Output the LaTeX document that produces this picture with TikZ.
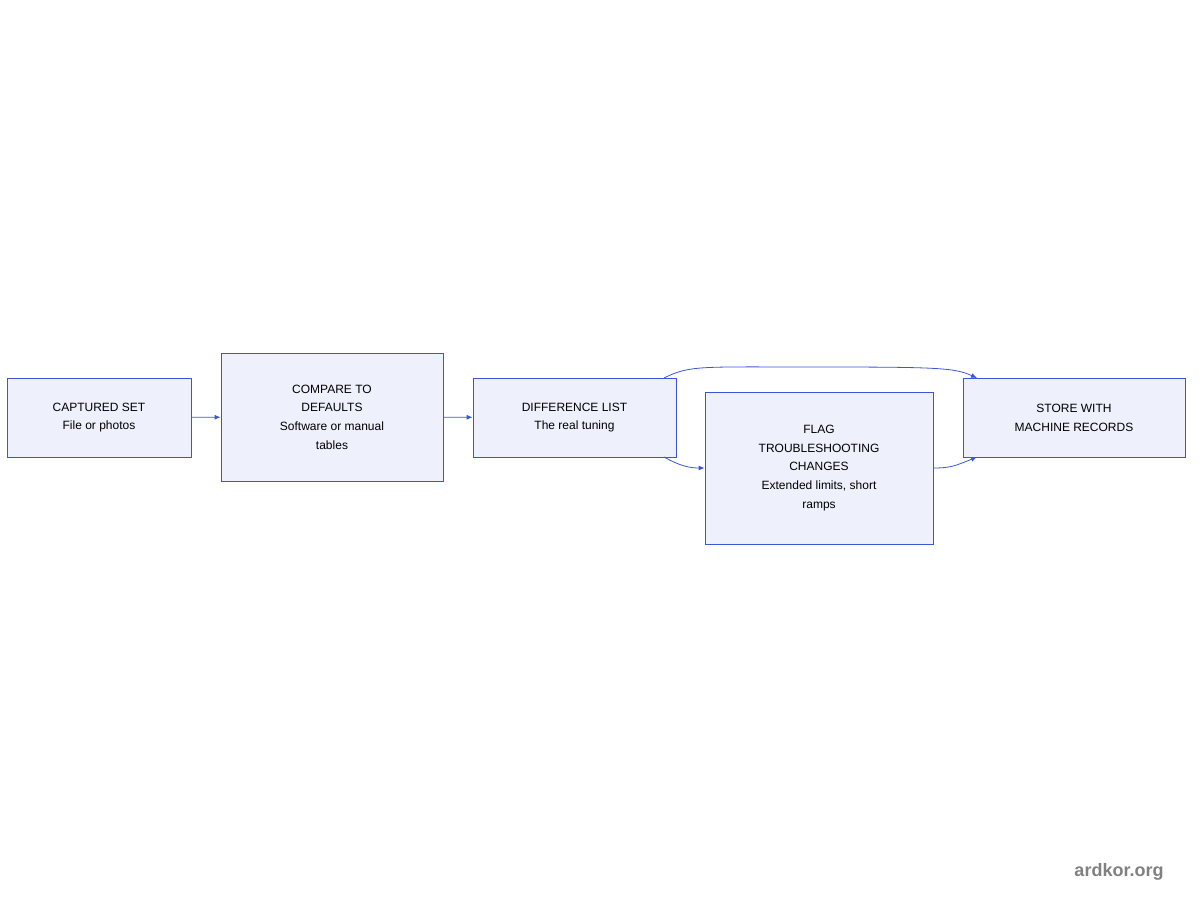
\documentclass[tikz,border=0pt]{standalone}
\usepackage{fontspec}
\setmainfont{Liberation Sans}
\usetikzlibrary{arrows.meta}
\definecolor{bfill}{HTML}{EEF0FC}
\definecolor{bline}{HTML}{3A55D8}
\begin{document}
\begin{tikzpicture}[x=1pt,y=-1pt,
 box/.style={draw=bline,fill=bfill,line width=0.8pt,align=center,font=\fontsize{12}{18.75}\selectfont,inner sep=0pt},
 arr/.style={draw=bline,line width=0.8pt,-{Latex[length=6pt,width=5pt]}}]
\useasboundingbox (0,0) rectangle (1200,900);
\node[box,minimum width=184,minimum height=79] (a) at (99,417.5) {CAPTURED SET\\File or photos};
\node[box,minimum width=222,minimum height=128] (b) at (332,417) {COMPARE TO\\DEFAULTS\\Software or manual\\tables};
\node[box,minimum width=203,minimum height=79] (c) at (574.5,417.5) {DIFFERENCE LIST\\The real tuning};
\node[box,minimum width=228,minimum height=152] (d) at (819,468) {FLAG\\TROUBLESHOOTING\\CHANGES\\Extended limits, short\\ramps};
\node[box,minimum width=222,minimum height=79] (e) at (1074,417.5) {STORE WITH\\MACHINE RECORDS};
\draw[arr] (a) -- (b);
\draw[arr] (b) -- (c);
\coordinate (c1) at (664,378);
\coordinate (e1) at (977,378);
\draw[arr] (c1) .. controls (690,365) and (700,367) .. (820,367) .. controls (940,367) and (955,368) .. (e1);
\coordinate (c2) at (664,457);
\draw[arr] (c2) .. controls (680,466) and (690,468) .. (d.west);
\coordinate (e2) at (977,457);
\draw[arr] (d.east) .. controls (950,468) and (955,466) .. (e2);
\node[font=\fontsize{18}{20}\selectfont\bfseries,text=black!50] (w) at (1119,872) {ardkor.org};
\end{tikzpicture}
\end{document}
